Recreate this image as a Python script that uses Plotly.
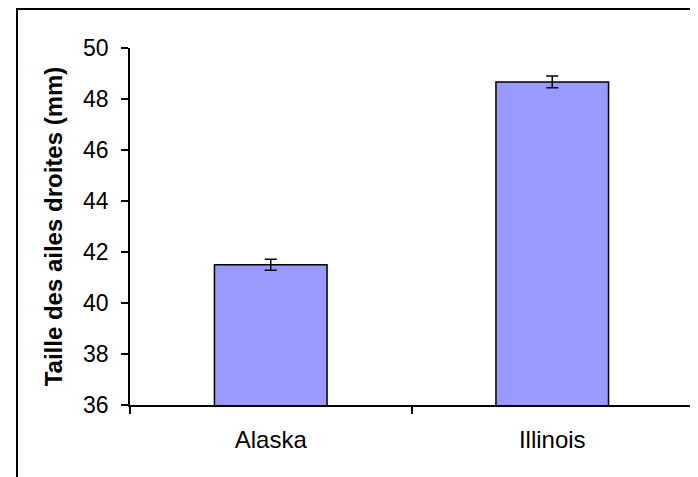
import plotly.graph_objects as go

categories = ["Alaska", "Illinois"]
values = [41.5, 48.67]
errors = [0.22, 0.23]
y_ticks = [36, 38, 40, 42, 44, 46, 48, 50]

FONT = "Liberation Sans, Arial, sans-serif"

# page body has an 8px margin; figure sized to fit the window exactly
W, H = 690, 469
L, T, R, B = 122, 40, 5, 72
PW, PH = W - L - R, H - T - B

fig = go.Figure()
fig.add_trace(go.Bar(
    x=categories, y=values,
    width=0.4,
    marker=dict(color="#9999FF", line=dict(color="black", width=1.5)),
    error_y=dict(type="data", array=errors, visible=True, color="black", thickness=1.5, width=6),
))

fig.update_layout(
    width=W, height=H,
    margin=dict(l=L, r=R, t=T, b=B, autoexpand=False),
    paper_bgcolor="white", plot_bgcolor="white",
    showlegend=False,
    font=dict(family=FONT, size=23, color="black"),
    xaxis=dict(
        type="category", range=[-0.5, 1.5],
        showline=True, linecolor="black", linewidth=1.5,
        ticks="outside", tickson="boundaries", ticklen=7, tickwidth=1.5, tickcolor="black",
        showgrid=False, zeroline=False,
        tickfont=dict(family=FONT, size=24, color="black"),
        ticklabelstandoff=12,
    ),
    yaxis=dict(
        range=[36, 50], tickvals=y_ticks,
        showline=True, linecolor="black", linewidth=1.5,
        ticks="outside", ticklen=7, tickwidth=1.5, tickcolor="black",
        showgrid=False, zeroline=False,
        tickfont=dict(family=FONT, size=23, color="black"),
        ticklabelstandoff=8,
        title=dict(text="<b>Taille des ailes droites (mm)</b>",
                   font=dict(family=FONT, size=24, color="black"), standoff=14),
    ),
)

fig.add_shape(type="rect", xref="paper", yref="paper",
              x0=(9 - L) / PW, x1=1.2, y0=-0.6, y1=1 + (T - 1) / PH,
              line=dict(color="black", width=2), fillcolor="rgba(0,0,0,0)", layer="above")

fig.write_html("out.html")
